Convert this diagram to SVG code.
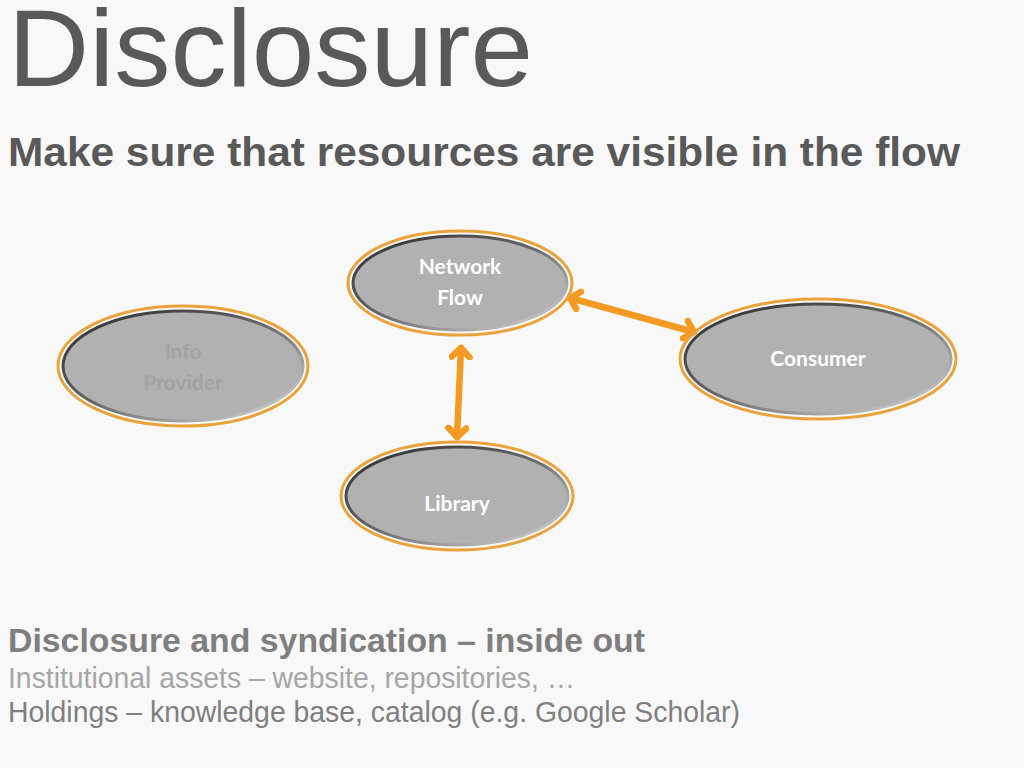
<svg xmlns="http://www.w3.org/2000/svg" width="1024" height="768" viewBox="0 0 1024 768">
<style>
.title{font-family:"Liberation Sans",Arial,sans-serif;fill:#595959}
.body{font-family:"Liberation Sans",Arial,sans-serif}
.lbl{font-family:Lato,"Open Sans",sans-serif;font-weight:bold;font-size:21px;fill:#ffffff;text-anchor:middle}
.rim{fill:none;stroke:#e8a33d;stroke-width:3}
.core{fill:#b1b1b1;stroke:url(#rimg);stroke-width:3}
.conn{stroke:#f29a21;stroke-width:6.5;fill:none;stroke-linecap:round}
</style>
<defs>
<linearGradient id="rimg" x1="0" y1="0" x2="1" y2="1">
<stop offset="0" stop-color="#2b2b2b"/>
<stop offset="0.5" stop-color="#6a6a6a"/>
<stop offset="1" stop-color="#e0e0e0"/>
</linearGradient>
<marker id="chev" viewBox="-12 -12 24 24" markerWidth="24" markerHeight="24" refX="0" refY="0" orient="auto-start-reverse" markerUnits="userSpaceOnUse">
<path d="M-9,-9 L0,0 L-9,9" fill="none" stroke="#f29a21" stroke-width="6.5" stroke-linecap="round" stroke-linejoin="round"/>
</marker>
</defs>
<rect width="1024" height="768" fill="#f8f8f8"/>
<text class="title" x="8" y="86" font-size="110" textLength="525" lengthAdjust="spacingAndGlyphs">Disclosure</text>
<text class="title" x="8" y="166" font-size="41" font-weight="bold" textLength="952" lengthAdjust="spacingAndGlyphs">Make sure that resources are visible in the flow</text>

<g id="connectors">
<line class="conn" x1="570" y1="298" x2="694" y2="332" marker-start="url(#chev)" marker-end="url(#chev)"/>
<line class="conn" x1="461" y1="348" x2="457" y2="437" marker-start="url(#chev)" marker-end="url(#chev)"/>
</g>

<g id="node-network-flow">
<ellipse class="rim" cx="460" cy="283" rx="112" ry="52"/>
<ellipse class="core" cx="460" cy="283" rx="107" ry="47"/>
<text class="lbl" x="460" y="274">Network</text>
<text class="lbl" x="460" y="305">Flow</text>
</g>
<g id="node-info-provider">
<ellipse class="rim" cx="183" cy="366" rx="125" ry="60"/>
<ellipse class="core" cx="183" cy="366" rx="120" ry="55"/>
<text class="lbl" x="183" y="359" style="fill:#a3a3a3">Info</text>
<text class="lbl" x="183" y="390" style="fill:#a3a3a3">Provider</text>
</g>
<g id="node-consumer">
<ellipse class="rim" cx="818" cy="359" rx="138" ry="60"/>
<ellipse class="core" cx="818" cy="359" rx="133" ry="55"/>
<text class="lbl" x="818" y="366">Consumer</text>
</g>
<g id="node-library">
<ellipse class="rim" cx="457" cy="496" rx="116" ry="54"/>
<ellipse class="core" cx="457" cy="496" rx="111" ry="49"/>
<text class="lbl" x="457" y="511">Library</text>
</g>

<text class="body" x="8" y="652" font-size="33" font-weight="bold" fill="#7f7f7f" textLength="637" lengthAdjust="spacingAndGlyphs">Disclosure and syndication – inside out</text>
<text class="body" x="8" y="688" font-size="29" fill="#a6a6a6" textLength="567" lengthAdjust="spacingAndGlyphs">Institutional assets – website, repositories, …</text>
<text class="body" x="8" y="722" font-size="29" fill="#7f7f7f" textLength="732" lengthAdjust="spacingAndGlyphs">Holdings – knowledge base, catalog (e.g. Google Scholar)</text>
</svg>
